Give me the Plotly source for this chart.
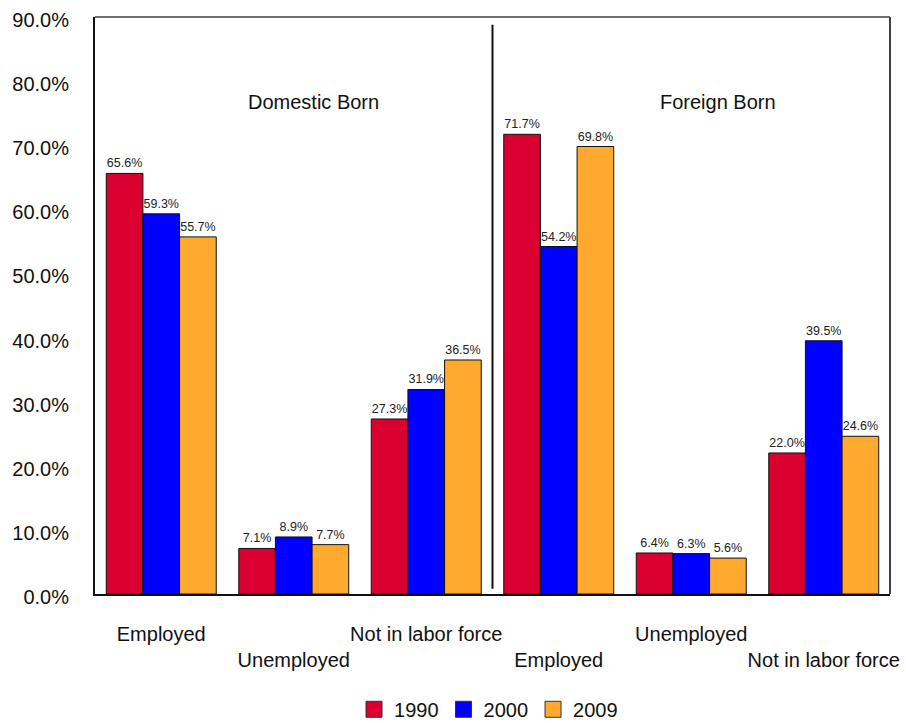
import plotly.graph_objects as go

categories = ["Employed", "Unemployed", "Not in labor force",
              "Employed", "Unemployed", "Not in labor force"]
tick_text = ["Employed", "<br>Unemployed", "Not in labor force",
             "<br>Employed", "Unemployed", "<br>Not in labor force"]
years = ["1990", "2000", "2009"]
values_1990 = [65.6, 7.1, 27.3, 71.7, 6.4, 22.0]
values_2000 = [59.3, 8.9, 31.9, 54.2, 6.3, 39.5]
values_2009 = [55.7, 7.7, 36.5, 69.8, 5.6, 24.6]
group_titles = ["Domestic Born", "Foreign Born"]
y_ticks = [0, 10, 20, 30, 40, 50, 60, 70, 80, 90]
y_tick_text = [f"{v:.1f}%" for v in y_ticks]

colors = ["#DA0030", "#0000FF", "#FFAA2E"]
series = [values_1990, values_2000, values_2009]
xpos = list(range(len(categories)))

fig = go.Figure()
for name, vals, col in zip(years, series, colors):
    fig.add_trace(go.Bar(
        x=xpos, y=vals, name=name, showlegend=False,
        marker=dict(color=col, line=dict(color="#111111", width=1)),
        text=[f"{v:.1f}%" for v in vals], textposition="outside",
        textfont=dict(size=12.5, color="#222222", family="Liberation Sans, Arial"),
        constraintext="none", cliponaxis=False,
    ))
    fig.add_trace(go.Scatter(
        x=[None], y=[None], mode="markers", name=name,
        marker=dict(symbol="square", size=16, color=col,
                    line=dict(color="#333333", width=1)),
    ))

fig.update_layout(
    width=906, height=723,
    margin=dict(l=95, r=16, t=17, b=129, autoexpand=False),
    paper_bgcolor="white", plot_bgcolor="white",
    barmode="group", bargap=0.17, bargroupgap=0,
    font=dict(family="Liberation Sans, Arial", size=20, color="#111111"),
    legend=dict(orientation="h", x=0.495, xanchor="center", y=-0.166, yanchor="top",
                font=dict(size=20), itemsizing="trace", traceorder="normal"),
    xaxis=dict(range=[-0.5, 5.5], tickmode="array", tickvals=xpos, ticktext=tick_text,
               tickangle=0, automargin=False, ticklabeloverflow="allow",
               showgrid=False, zeroline=False, showline=True, linecolor="#111111",
               linewidth=2, ticks="outside", ticklen=21, tickcolor="rgba(0,0,0,0)",
               tickfont=dict(size=20)),
    yaxis=dict(range=[0, 90], tickmode="array", tickvals=y_ticks, ticktext=y_tick_text,
               automargin=False, ticklabeloverflow="allow", ticklabelshift=3,
               showgrid=False, zeroline=False, showline=True, linecolor="#111111",
               linewidth=2, ticks="outside", ticklen=20, tickcolor="rgba(0,0,0,0)",
               tickfont=dict(size=20)),
    shapes=[
        dict(type="line", xref="paper", yref="paper", x0=0, x1=1, y0=1, y1=1,
             line=dict(color="#707070", width=2)),
        dict(type="line", xref="paper", yref="paper", x0=1, x1=1, y0=0, y1=1,
             line=dict(color="#404040", width=2)),
        dict(type="line", xref="x", yref="y", x0=2.5, x1=2.5, y0=0.8, y1=88.8,
             line=dict(color="#111111", width=2)),
    ],
    annotations=[
        dict(x=1.15, y=76.7, xref="x", yref="y", text=group_titles[0], showarrow=False,
             font=dict(size=20)),
        dict(x=4.2, y=76.7, xref="x", yref="y", text=group_titles[1], showarrow=False,
             font=dict(size=20)),
    ],
)

fig.write_html("out.html", config={"displayModeBar": False},
               post_script="document.body.style.margin='0';document.body.style.overflow='hidden';")
